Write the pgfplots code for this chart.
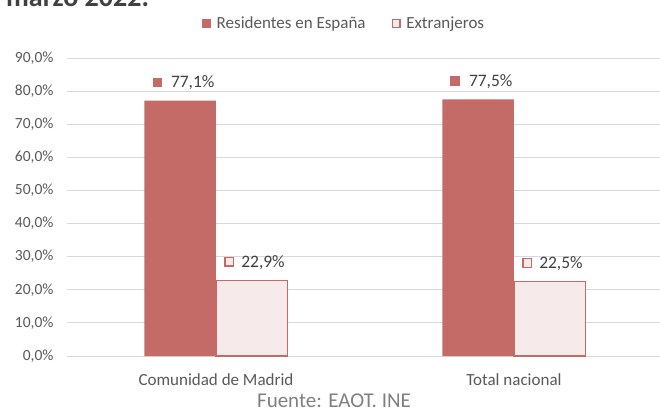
\documentclass[border=0pt]{standalone}
\usepackage{pgfplots}
\pgfplotsset{compat=1.18}
\usepackage{fontspec}
\setmainfont{Carlito}
\definecolor{res}{HTML}{C46B68}
\definecolor{ext}{HTML}{F6EAEA}
\definecolor{grd}{HTML}{D9D9D9}
\definecolor{txt}{HTML}{595959}
\definecolor{lbl}{HTML}{404040}
\definecolor{src}{HTML}{7F7F7F}
\begin{document}
\begin{tikzpicture}
\useasboundingbox (0,0) rectangle (660pt,410pt);
\node[anchor=base west, font=\bfseries\fontsize{28}{30}\selectfont, text=lbl, inner sep=0pt] at (6pt,403pt) {marzo 2022.};
\begin{axis}[
  at={(67pt,54pt)}, anchor=south west,
  scale only axis, width=593pt, height=298pt,
  xmin=-0.5, xmax=1.49, ymin=0, ymax=90,
  ytick={0,10,...,90},
  xtick={0,1}, xticklabels={Comunidad de Madrid, Total nacional},
  ymajorgrids, grid style={grd, line width=1pt},
  axis line style={draw=none},
  major tick length=0pt,
  yticklabel={\pgfmathprintnumber[fixed,fixed zerofill,precision=1,use comma,assume math mode=true]{\tick}\%},
  yticklabel style={font=\fontsize{15.5}{18}\selectfont, text=txt, xshift=-10pt},
  xticklabel style={font=\fontsize{17}{20}\selectfont, text=txt, yshift=-14pt},
  bar width=71.5pt,
  every node near coord/.append style={font=\fontsize{17.5}{20}\selectfont, text=lbl, anchor=center, yshift=18pt},
  legend style={at={(0.467,1.115)}, anchor=center, draw=none, fill=none, legend columns=2,
    font=\fontsize{17}{20}\selectfont, text=txt,
    /tikz/every even column/.append style={column sep=24pt}},
]
\addplot[ybar, bar shift=-35.75pt, fill=res, draw=none,
  legend image code/.code={\fill[res] (0pt,-4.5pt) rectangle (9pt,4.5pt); \path (13pt,0pt);},
  every node near coord/.append style={xshift=-32.5pt},
  nodes near coords={\textcolor{res}{\rule[0.5pt]{9.5pt}{9.5pt}}\hspace{9pt}\pgfmathprintnumber[fixed,fixed zerofill,precision=1,use comma,assume math mode=true]{\pgfplotspointmeta}\%}]
  coordinates {(0,77.1) (1,77.5)};
\addlegendentry{Residentes en España}
\addplot[ybar, bar shift=35.75pt, fill=ext, draw=res, line width=1.3pt,
  legend image code/.code={\draw[res, fill=ext, line width=1.2pt] (0.6pt,-3.9pt) rectangle (8.4pt,3.9pt); \path (12pt,0pt);},
  every node near coord/.append style={xshift=38.5pt},
  nodes near coords={\tikz[baseline=0pt]\draw[res, fill=ext, line width=1.3pt] (0.65pt,1.15pt) rectangle (9.35pt,9.85pt);\hspace{7pt}\pgfmathprintnumber[fixed,fixed zerofill,precision=1,use comma,assume math mode=true]{\pgfplotspointmeta}\%}]
  coordinates {(0,22.9) (1,22.5)};
\addlegendentry{Extranjeros}
\end{axis}
\node[font=\fontsize{21}{24}\selectfont, text=src] at (334pt,9pt) {Fuente: EAOT. INE};
\end{tikzpicture}
\end{document}
